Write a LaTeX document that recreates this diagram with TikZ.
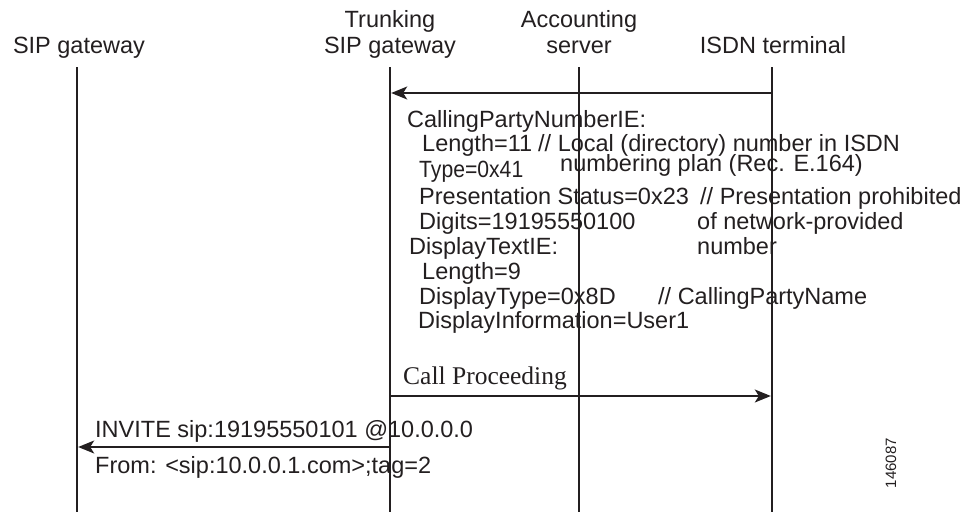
\documentclass[tikz,border=0pt]{standalone}
\usepackage{fontspec}
\setmainfont{Liberation Sans}
\newfontfamily\serifface{Liberation Serif}
\newfontfamily\narrowface[FakeStretch=0.9]{Liberation Sans}
\usetikzlibrary{arrows.meta}
\definecolor{ink}{HTML}{231F20}
\begin{document}
\begin{tikzpicture}[x=1pt,y=-1pt,
  lbl/.style={anchor=base west,inner sep=0pt,text=ink,font=\fontsize{23.5}{27}\selectfont},
  hdr/.style={anchor=base,inner sep=0pt,text=ink,font=\fontsize{23.5}{27}\selectfont},
  life/.style={line width=2.4pt,draw=ink},
  msg/.style={line width=1.4pt,draw=ink,shorten >=1.2pt,-{Stealth[length=16pt,width=13pt,inset=4pt]}}]
\useasboundingbox (0,0) rectangle (975,512);
% headers
\node[hdr] (h1) at (79,53) {SIP gateway};
\node[hdr] (h2a) at (390,27) {Trunking};
\node[hdr] (h2b) at (390,53) {SIP gateway};
\node[hdr] (h3a) at (579,27) {Accounting};
\node[hdr] (h3b) at (579,53) {server};
\node[hdr] (h4) at (773,53) {ISDN terminal};
% lifelines
\coordinate (a0) at (77,67);  \coordinate (a1) at (77,512);
\coordinate (b0) at (390,67); \coordinate (b1) at (390,512);
\coordinate (c0) at (579,67); \coordinate (c1) at (579,512);
\coordinate (d0) at (772,67); \coordinate (d1) at (772,512);
\draw[life] (a0) -- (a1);
\draw[life] (b0) -- (b1);
\draw[life] (c0) -- (c1);
\draw[life] (d0) -- (d1);
% message end points
\coordinate (m1s) at (772,93);  \coordinate (m1e) at (390,93);
\coordinate (m2s) at (390,396); \coordinate (m2e) at (772,396);
\coordinate (m3s) at (390,447); \coordinate (m3e) at (77,447);
\draw[msg] (m1s) -- (m1e);
\draw[msg] (m2s) -- (m2e);
\draw[msg] (m3s) -- (m3e);
% message 1 contents
\node[lbl] (t1) at (407,127) {CallingPartyNumberIE:};
\node[lbl] (t2) at (422,151) {Length=11};
\node[lbl] (t2b) at (538,151) {// Local (directory) number in ISDN};
\node[lbl] (t2c) at (560,171) {numbering plan (Rec. E.164)};
\node[lbl,font=\narrowface\fontsize{23.5}{27}\selectfont] (t3) at (419,177) {Type=0x41};
\node[lbl] (t4) at (419,204) {Presentation Status=0x23};
\node[lbl] (t4b) at (700,204) {// Presentation prohibited};
\node[lbl] (t5) at (419,229) {Digits=19195550100};
\node[lbl] (t5b) at (697,229) {of network-provided};
\node[lbl] (t6) at (409,254) {DisplayTextIE:};
\node[lbl] (t6b) at (697,254) {number};
\node[lbl] (t7) at (422,279) {Length=9};
\node[lbl] (t8) at (419,304) {DisplayType=0x8D};
\node[lbl] (t8b) at (658,304) {// CallingPartyName};
\node[lbl] (t9) at (418,328) {DisplayInformation=User1};
% call proceeding
\node[lbl,font=\serifface\fontsize{25.5}{30}\selectfont] (cp) at (403,384) {Call Proceeding};
% invite
\node[lbl] (inv) at (95,437) {INVITE sip:19195550101 @10.0.0.0};
\node[lbl] (frm) at (95,473) {From: <sip:10.0.0.1.com>;tag=2};
% figure number
\node[inner sep=0pt,text=ink,rotate=90,font=\fontsize{15}{18}\selectfont] (fig) at (891,463) {146087};
\end{tikzpicture}
\end{document}
